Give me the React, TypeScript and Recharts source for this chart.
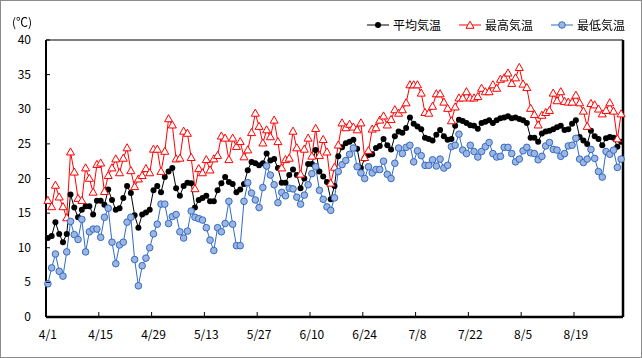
import { LineChart, Line, XAxis, YAxis, ReferenceLine, Legend } from "recharts";

// daily categories 4/1 .. 8/31
const MONTHS: [number, number][] = [[4, 30], [5, 31], [6, 30], [7, 31], [8, 31]];
const dates: string[] = [];
MONTHS.forEach(([m, n]) => {
  for (let d = 1; d <= n; d++) dates.push(`${m}/${d}`);
});

const xTickLabels = ["4/1", "4/15", "4/29", "5/13", "5/27", "6/10", "6/24", "7/8", "7/22", "8/5", "8/19"];
const yTicks = [0, 5, 10, 15, 20, 25, 30, 35, 40];

// 平均気温
const avgTemp = [
  11.4, 11.7, 13.7, 12.0, 10.8, 12.0, 17.7, 15.8, 14.4, 15.5,
  16.0, 16.0, 14.8, 16.8, 16.8, 16.2, 18.4, 16.9, 15.5, 15.7,
  17.2, 18.9, 17.9, 14.7, 12.9, 14.8, 15.1, 15.5, 18.3, 18.9,
  18.0, 20.2, 21.0, 21.5, 18.6, 17.5, 18.9, 19.4, 19.3, 15.8,
  16.9, 17.2, 17.5, 16.7, 16.7, 18.3, 19.3, 20.2, 19.5, 19.2,
  18.0, 18.4, 19.2, 21.2, 22.4, 22.2, 21.9, 22.2, 23.6, 22.6,
  22.8, 21.5, 19.4, 19.4, 20.5, 21.3, 20.5, 18.6, 20.0, 22.1,
  22.1, 24.1, 21.0, 20.3, 19.5, 17.0, 18.9, 23.2, 24.5, 25.1,
  25.3, 25.6, 24.3, 21.5, 22.9, 23.4, 23.5, 24.4, 24.7, 25.7,
  24.8, 24.2, 26.1, 26.8, 26.6, 27.3, 28.8, 27.9, 27.5, 27.1,
  25.9, 25.7, 25.5, 26.3, 27.0, 26.1, 25.6, 25.7, 27.6, 28.5,
  28.3, 28.0, 27.7, 27.6, 27.2, 28.0, 28.2, 28.4, 28.0, 28.4,
  28.7, 28.8, 29.0, 28.7, 28.8, 28.6, 28.4, 28.0, 25.9, 25.9,
  25.3, 26.5, 26.8, 26.9, 27.1, 27.4, 27.6, 27.0, 27.1, 27.9,
  28.4, 26.0, 25.5, 25.0, 26.9, 26.1, 25.7, 24.8, 25.8, 26.0,
  25.9, 24.6, 25.3,
];

// 最高気温
const maxTemp = [
  16.8, 15.9, 19.0, 17.3, 15.9, 14.3, 23.8, 20.9, 17.1, 16.8,
  21.5, 20.0, 18.0, 22.0, 22.2, 18.1, 20.4, 21.5, 22.8, 20.8,
  22.9, 24.4, 21.1, 18.8, 19.9, 20.4, 21.4, 20.8, 24.2, 24.2,
  21.0, 23.9, 28.6, 27.7, 22.8, 22.9, 26.8, 26.5, 23.0, 18.5,
  21.4, 20.8, 22.7, 21.2, 22.8, 23.3, 26.1, 25.8, 22.7, 25.8,
  24.6, 25.3, 23.1, 24.1, 26.6, 29.4, 27.5, 25.1, 27.0, 26.0,
  28.4, 25.3, 21.5, 22.7, 22.9, 26.8, 24.4, 20.6, 24.2, 25.8,
  23.2, 27.2, 23.3, 25.6, 23.8, 19.3, 21.6, 24.8, 28.0, 27.3,
  27.8, 27.4, 27.0, 28.0, 23.0, 24.0, 27.1, 27.3, 28.4, 29.0,
  27.7, 28.5, 29.9, 29.4, 29.9, 30.9, 33.5, 33.5, 33.5, 32.3,
  29.5, 29.4, 30.4, 32.2, 32.2, 31.0, 30.1, 28.3, 30.3, 31.6,
  31.6, 32.5, 31.6, 31.6, 31.8, 33.0, 32.5, 32.5, 33.5, 33.0,
  34.3, 34.5, 35.2, 33.7, 34.5, 36.0, 33.6, 33.1, 30.1, 29.2,
  27.7, 29.1, 29.5, 29.8, 32.3, 31.2, 32.5, 31.1, 31.0, 31.0,
  32.0, 30.9, 29.7, 27.5, 30.8, 30.6, 30.0, 29.3, 29.8, 30.9,
  29.7, 25.7, 29.3,
];

// 最低気温
const minTemp = [
  4.8, 7.1, 9.1, 6.6, 5.9, 9.4, 13.8, 11.9, 11.2, 14.1,
  9.4, 12.3, 12.7, 12.7, 11.5, 14.4, 15.7, 10.8, 7.7, 10.4,
  10.8, 13.7, 14.4, 8.3, 4.5, 7.4, 8.5, 10.0, 12.0, 13.4,
  16.3, 16.3, 13.5, 14.5, 14.8, 12.3, 11.4, 12.4, 15.3, 14.4,
  14.2, 14.0, 12.9, 11.1, 9.6, 12.9, 12.3, 13.5, 16.7, 13.4,
  10.3, 10.3, 16.7, 19.4, 17.9, 16.9, 15.8, 18.7, 21.8, 20.5,
  19.1, 16.5, 18.0, 17.5, 18.6, 18.5, 17.3, 16.3, 17.6, 19.1,
  20.7, 21.7, 18.3, 17.0, 15.9, 15.4, 17.2, 21.0, 22.0, 22.6,
  23.5, 24.4, 21.7, 20.8, 20.0, 21.7, 20.8, 21.3, 21.3, 22.5,
  20.6, 20.0, 22.2, 24.4, 23.6, 24.5, 24.8, 22.4, 24.0, 23.3,
  21.9, 21.9, 22.7, 21.8, 22.8, 21.5, 21.9, 24.6, 24.8, 26.4,
  24.1, 23.6, 24.8, 23.9, 23.1, 23.9, 24.6, 25.2, 23.6, 23.1,
  23.2, 24.5, 24.5, 23.6, 22.4, 22.8, 24.0, 24.5, 23.7, 23.6,
  22.7, 23.2, 24.7, 25.2, 24.2, 24.1, 23.2, 23.6, 24.7, 24.8,
  25.8, 22.8, 22.3, 22.8, 24.2, 22.9, 21.0, 20.2, 23.9, 23.5,
  24.1, 21.6, 22.8,
];

const data = dates.map((date, i) => ({
  i,
  date,
  avg: avgTemp[i],
  max: maxTemp[i],
  min: minTemp[i],
}));

const W = 642;
const H = 358;
const MARGIN = { top: 40, right: 19, left: 0, bottom: 0 };
const Y_AXIS_W = 46;
const X_AXIS_H = 41;
const PLOT_W = W - MARGIN.left - MARGIN.right - Y_AXIS_W;
const HALF_BAND = PLOT_W / dates.length / 2;
const FONT = "'Noto Sans CJK JP', 'Liberation Sans', sans-serif";

const RED = "#ff0000";
const BLUE = "#2f6cc8";
const BLUE_FILL = "#9fb5e0";

const YTick = ({ x, y, payload }: any) => {
  const axisX = x + 15;
  return (
    <g>
      <line x1={axisX} x2={axisX + 4} y1={y} y2={y} stroke="#000" strokeWidth={1} />
      <text x={x} y={y} dy={4} textAnchor="end" fontSize={12} fontFamily={FONT} fill="#000">
        {payload.value}
      </text>
    </g>
  );
};

const XTick = ({ x, y, payload }: any) => {
  const axisY = y - 4;
  const tx = x - HALF_BAND;
  return (
    <g>
      {payload.value > 0 && (
        <line x1={tx} x2={tx} y1={axisY} y2={axisY - 5} stroke="#000" strokeWidth={1} />
      )}
      <text x={x} y={y} dy={18} textAnchor="middle" fontSize={12} fontFamily={FONT} fill="#000">
        {dates[payload.value]}
      </text>
    </g>
  );
};

const triPath = (cx: number, cy: number) =>
  `M${cx},${cy - 4.3} L${cx + 4},${cy + 2.8} L${cx - 4},${cy + 2.8} Z`;

const TriangleDot = ({ cx, cy }: any) => (
  <path d={triPath(cx, cy)} fill="#fff" stroke={RED} strokeWidth={1} />
);

const series = [
  { key: "avg", name: "平均気温", color: "#000" },
  { key: "max", name: "最高気温", color: RED },
  { key: "min", name: "最低気温", color: BLUE },
];

const LegendContent = () => (
  <div style={{ display: "flex", fontFamily: FONT, fontSize: 12, color: "#000" }}>
    {series.map((s) => (
      <div key={s.key} style={{ display: "flex", alignItems: "center", width: 92 }}>
        <svg width={24} height={10} style={{ marginRight: 2 }}>
          <line x1={0} x2={22} y1={5} y2={5} stroke={s.color} strokeWidth={1} />
          {s.key === "avg" && <circle cx={11} cy={5} r={3} fill="#000" />}
          {s.key === "max" && <path d={triPath(11, 5.5)} fill="#fff" stroke={RED} />}
          {s.key === "min" && <circle cx={11} cy={5} r={3.3} fill={BLUE_FILL} stroke={BLUE} />}
        </svg>
        <span>{s.name}</span>
      </div>
    ))}
  </div>
);

export default function App() {
  const tickIdx = xTickLabels.map((l) => dates.indexOf(l));
  return (
    <div style={{ position: "fixed", left: 0, top: 0, width: W, height: H, background: "#fff" }}>
      <LineChart width={W} height={H} data={data} margin={MARGIN}>
        <XAxis
          dataKey="i"
          type="number"
          domain={[-0.5, dates.length - 0.5]}
          ticks={tickIdx}
          interval={0}
          height={X_AXIS_H}
          tickSize={0}
          tickMargin={4}
          tickLine={false}
          axisLine={{ stroke: "#000", strokeWidth: 2.5 }}
          tick={<XTick />}
        />
        <YAxis
          type="number"
          domain={[0, 40]}
          ticks={yTicks}
          interval={0}
          width={Y_AXIS_W}
          tickSize={0}
          tickMargin={15}
          tickLine={false}
          axisLine={{ stroke: "#000", strokeWidth: 2 }}
          tick={<YTick />}
        />
        <ReferenceLine y={40} stroke="#000" strokeWidth={1} />
        <ReferenceLine x={dates.length - 0.5} stroke="#000" strokeWidth={2.5} />
        <Legend
          layout="vertical"
          verticalAlign="middle"
          align="center"
          content={<LegendContent />}
          wrapperStyle={{ left: 367, top: 16, width: 280 }}
        />
        <Line
          dataKey="avg"
          name="平均気温"
          stroke="#000"
          strokeWidth={1}
          dot={{ r: 3, fill: "#000", stroke: "none" }}
          isAnimationActive={false}
        />
        <Line
          dataKey="max"
          name="最高気温"
          stroke={RED}
          strokeWidth={1}
          dot={(p: any) => <TriangleDot key={`t${p.index}`} {...p} />}
          isAnimationActive={false}
        />
        <Line
          dataKey="min"
          name="最低気温"
          stroke={BLUE}
          strokeWidth={1}
          dot={{ r: 3.3, fill: BLUE_FILL, stroke: BLUE, strokeWidth: 1 }}
          isAnimationActive={false}
        />
      </LineChart>
      <div
        style={{
          position: "absolute",
          left: 12,
          top: 13,
          fontFamily: FONT,
          fontSize: 12,
          color: "#000",
        }}
      >
        (℃)
      </div>
      <div
        style={{
          position: "absolute",
          inset: 0,
          border: "1px solid #8c8c8c",
          pointerEvents: "none",
        }}
      />
    </div>
  );
}
